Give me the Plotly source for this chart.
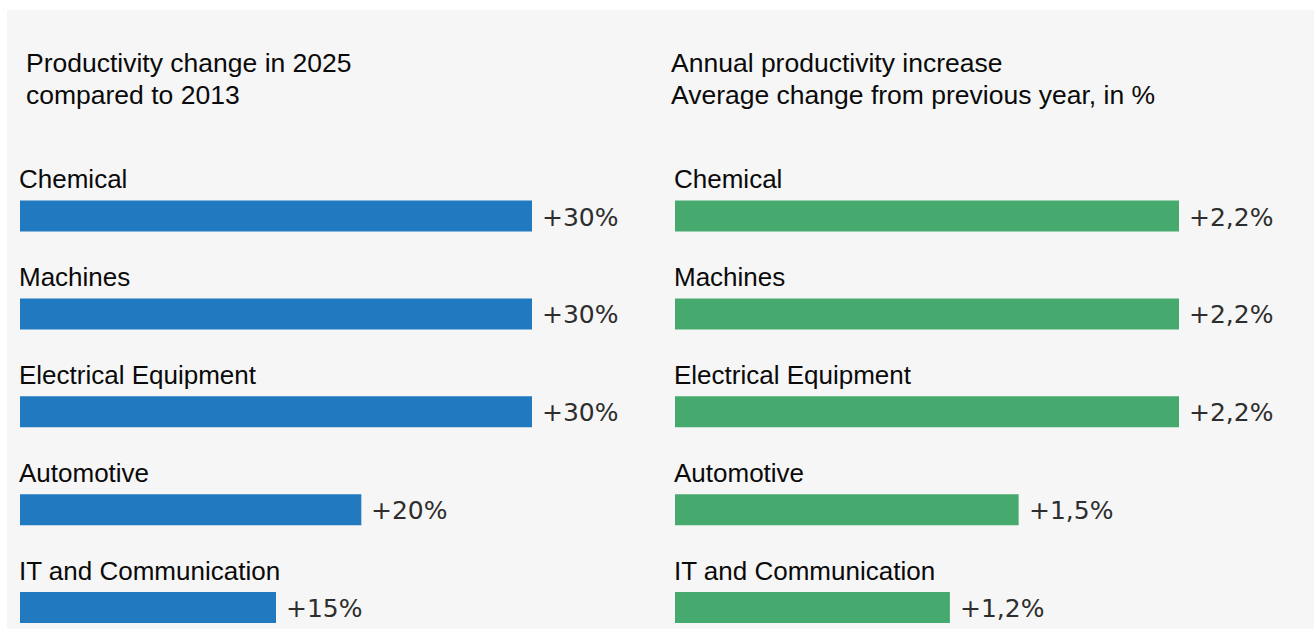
import plotly.graph_objects as go

# ---- data ----
categories = ["Chemical", "Machines", "Electrical Equipment", "Automotive", "IT and Communication"]
change_2025_vs_2013 = [30, 30, 30, 20, 15]          # % change in 2025 compared to 2013
annual_increase = [2.2, 2.2, 2.2, 1.5, 1.2]         # average % change from previous year
left_labels = ["+30%", "+30%", "+30%", "+20%", "+15%"]
right_labels = ["+2,2%", "+2,2%", "+2,2%", "+1,5%", "+1,2%"]
left_title = ["Productivity change in 2025", "compared to 2013"]
right_title = ["Annual productivity increase", "Average change from previous year, in %"]

# ---- layout constants ----
W, H = 1314, 629
BLUE = "#2179bf"
GREEN = "#46aa6e"
BG = "#f6f6f6"
LABEL_FONT = dict(family="Liberation Sans, Arial, sans-serif", size=26, color="#0a0a0a")
TITLE_FONT = dict(family="Liberation Sans, Arial, sans-serif", size=26.5, color="#0a0a0a")
VALUE_FONT = dict(family="DejaVu Sans, sans-serif", size=25, color="#2e2e2e")

# pixel geometry of the two panels
left_zero, left_scale = 20, 512 / 30        # px at value 0, px per %
right_zero, right_scale = 675, 504 / 2.2
row0_px, row_step = 216, 97.9               # centre of first bar, spacing
bar_px = 31

ypos = list(range(len(categories)))

fig = go.Figure()
fig.add_trace(go.Bar(
    y=ypos, x=change_2025_vs_2013, orientation="h", xaxis="x", yaxis="y",
    width=bar_px / row_step, marker=dict(color=BLUE, line=dict(width=0)),
    hoverinfo="skip", showlegend=False))
fig.add_trace(go.Bar(
    y=ypos, x=annual_increase, orientation="h", xaxis="x2", yaxis="y",
    width=bar_px / row_step, marker=dict(color=GREEN, line=dict(width=0)),
    hoverinfo="skip", showlegend=False))

annotations = []
for i, name in enumerate(categories):
    for ax in ("x", "x2"):
        annotations.append(dict(
            x=0, y=i, xref=ax, yref="y", text=name, showarrow=False,
            xanchor="left", yanchor="middle", xshift=-3, yshift=37,
            font=LABEL_FONT))
    annotations.append(dict(
        x=change_2025_vs_2013[i], y=i, xref="x", yref="y", text=left_labels[i],
        showarrow=False, xanchor="left", yanchor="middle", xshift=8, yshift=-1,
        font=VALUE_FONT))
    annotations.append(dict(
        x=annual_increase[i], y=i, xref="x2", yref="y", text=right_labels[i],
        showarrow=False, xanchor="left", yanchor="middle", xshift=8, yshift=-1,
        font=VALUE_FONT))

for k, line in enumerate(left_title):
    annotations.append(dict(
        x=24 / W, y=1 - (63 + 32 * k) / H, xref="paper", yref="paper", text=line,
        showarrow=False, xanchor="left", yanchor="middle", font=TITLE_FONT))
for k, line in enumerate(right_title):
    annotations.append(dict(
        x=669 / W, y=1 - (63 + 32 * k) / H, xref="paper", yref="paper", text=line,
        showarrow=False, xanchor="left", yanchor="middle", font=TITLE_FONT))

hidden = dict(visible=False, showgrid=False, zeroline=False, fixedrange=True)

fig.update_layout(
    width=W, height=H,
    margin=dict(l=0, r=0, t=0, b=0),
    paper_bgcolor="white", plot_bgcolor="rgba(0,0,0,0)",
    barmode="overlay",
    xaxis=dict(domain=[0, 1], range=[-left_zero / left_scale, (W - left_zero) / left_scale], **hidden),
    xaxis2=dict(domain=[0, 1], overlaying="x",
                range=[-right_zero / right_scale, (W - right_zero) / right_scale], **hidden),
    yaxis=dict(domain=[0, 1],
               range=[(H - row0_px) / row_step, -row0_px / row_step], **hidden),
    annotations=annotations,
    shapes=[dict(type="rect", xref="paper", yref="paper", x0=7 / W, x1=1, y0=0, y1=1 - 10 / H,
                 fillcolor=BG, line=dict(width=0), layer="below")],
)

fig.write_html("out.html", config={"displayModeBar": False})
